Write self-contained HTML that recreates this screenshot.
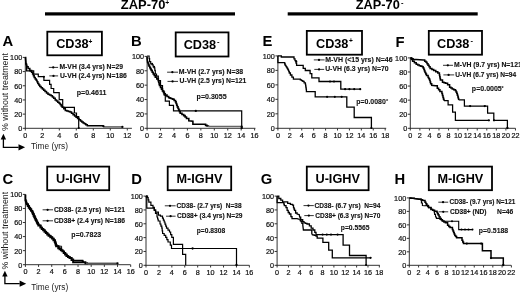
<!DOCTYPE html>
<html><head><meta charset="utf-8"><title>ZAP-70 CD38 Kaplan-Meier</title>
<style>
html,body{margin:0;padding:0;background:#fff;}
body{width:520px;height:292px;overflow:hidden;}
svg{display:block;font-family:"Liberation Sans", sans-serif;will-change:transform;}
</style></head>
<body>
<svg width="520" height="292" viewBox="0 0 520 292" font-family='"Liberation Sans", sans-serif'>
<rect width="520" height="292" fill="#fff"/>
<rect x="45" y="12.3" width="190" height="3.2" fill="#000"/>
<rect x="287.7" y="12.3" width="190" height="3.2" fill="#000"/>
<text x="120.8" y="8.8" font-size="12.8" font-weight="bold" textLength="44.6" lengthAdjust="spacingAndGlyphs">ZAP-70</text>
<text x="165.30" y="4.90" font-size="6.8" font-weight="bold" text-anchor="start" fill="#000" >+</text>
<text x="355.8" y="8.8" font-size="12.8" font-weight="bold" textLength="44.0" lengthAdjust="spacingAndGlyphs">ZAP-70</text>
<text x="401.00" y="4.70" font-size="7.5" font-weight="bold" text-anchor="start" fill="#000" >-</text>
<text x="2.40" y="45.90" font-size="14.8" font-weight="bold" text-anchor="start" fill="#000" >A</text>
<rect x="47.30" y="31.70" width="54.60" height="23.60" fill="none" stroke="#000" stroke-width="1.8"/>
<text x="72.40" y="48.20" font-size="12.7" font-weight="bold" text-anchor="middle">CD38</text>
<line x1="25.30" y1="57.40" x2="25.30" y2="128.80" stroke="#333" stroke-width="1" />
<line x1="24.80" y1="128.30" x2="131.90" y2="128.30" stroke="#333" stroke-width="1" />
<line x1="22.80" y1="128.30" x2="25.30" y2="128.30" stroke="#333" stroke-width="1" />
<text transform="translate(22.20,131.20) scale(1,1.12)" font-size="7.25" text-anchor="end" fill="#111" stroke="#111" stroke-width="0.2">0</text>
<line x1="22.80" y1="114.12" x2="25.30" y2="114.12" stroke="#333" stroke-width="1" />
<text transform="translate(22.20,117.02) scale(1,1.12)" font-size="7.25" text-anchor="end" fill="#111" stroke="#111" stroke-width="0.2">20</text>
<line x1="22.80" y1="99.94" x2="25.30" y2="99.94" stroke="#333" stroke-width="1" />
<text transform="translate(22.20,102.84) scale(1,1.12)" font-size="7.25" text-anchor="end" fill="#111" stroke="#111" stroke-width="0.2">40</text>
<line x1="22.80" y1="85.76" x2="25.30" y2="85.76" stroke="#333" stroke-width="1" />
<text transform="translate(22.20,88.66) scale(1,1.12)" font-size="7.25" text-anchor="end" fill="#111" stroke="#111" stroke-width="0.2">60</text>
<line x1="22.80" y1="71.58" x2="25.30" y2="71.58" stroke="#333" stroke-width="1" />
<text transform="translate(22.20,74.48) scale(1,1.12)" font-size="7.25" text-anchor="end" fill="#111" stroke="#111" stroke-width="0.2">80</text>
<line x1="22.80" y1="57.40" x2="25.30" y2="57.40" stroke="#333" stroke-width="1" />
<text transform="translate(22.20,60.30) scale(1,1.12)" font-size="7.25" text-anchor="end" fill="#111" stroke="#111" stroke-width="0.2">100</text>
<line x1="25.30" y1="128.30" x2="25.30" y2="130.50" stroke="#333" stroke-width="1" />
<text transform="translate(25.30,137.50) scale(1,1.12)" font-size="7.25" text-anchor="middle" fill="#111" stroke="#111" stroke-width="0.2">0</text>
<line x1="42.30" y1="128.30" x2="42.30" y2="130.50" stroke="#333" stroke-width="1" />
<text transform="translate(42.30,137.50) scale(1,1.12)" font-size="7.25" text-anchor="middle" fill="#111" stroke="#111" stroke-width="0.2">2</text>
<line x1="59.30" y1="128.30" x2="59.30" y2="130.50" stroke="#333" stroke-width="1" />
<text transform="translate(59.30,137.50) scale(1,1.12)" font-size="7.25" text-anchor="middle" fill="#111" stroke="#111" stroke-width="0.2">4</text>
<line x1="76.30" y1="128.30" x2="76.30" y2="130.50" stroke="#333" stroke-width="1" />
<text transform="translate(76.30,137.50) scale(1,1.12)" font-size="7.25" text-anchor="middle" fill="#111" stroke="#111" stroke-width="0.2">6</text>
<line x1="93.30" y1="128.30" x2="93.30" y2="130.50" stroke="#333" stroke-width="1" />
<text transform="translate(93.30,137.50) scale(1,1.12)" font-size="7.25" text-anchor="middle" fill="#111" stroke="#111" stroke-width="0.2">8</text>
<line x1="110.30" y1="128.30" x2="110.30" y2="130.50" stroke="#333" stroke-width="1" />
<text transform="translate(110.30,137.50) scale(1,1.12)" font-size="7.25" text-anchor="middle" fill="#111" stroke="#111" stroke-width="0.2">10</text>
<line x1="127.30" y1="128.30" x2="127.30" y2="130.50" stroke="#333" stroke-width="1" />
<text transform="translate(127.30,137.50) scale(1,1.12)" font-size="7.25" text-anchor="middle" fill="#111" stroke="#111" stroke-width="0.2">12</text>
<text x="131.00" y="45.80" font-size="14.8" font-weight="bold" text-anchor="start" fill="#000" >B</text>
<rect x="175.70" y="32.40" width="52.80" height="24.10" fill="none" stroke="#000" stroke-width="1.8"/>
<text x="199.90" y="49.15" font-size="12.7" font-weight="bold" text-anchor="middle">CD38</text>
<line x1="147.10" y1="56.40" x2="147.10" y2="128.80" stroke="#333" stroke-width="1" />
<line x1="146.60" y1="128.30" x2="255.40" y2="128.30" stroke="#333" stroke-width="1" />
<line x1="144.60" y1="128.30" x2="147.10" y2="128.30" stroke="#333" stroke-width="1" />
<text transform="translate(144.00,131.20) scale(1,1.12)" font-size="7.25" text-anchor="end" fill="#111" stroke="#111" stroke-width="0.2">0</text>
<line x1="144.60" y1="113.92" x2="147.10" y2="113.92" stroke="#333" stroke-width="1" />
<text transform="translate(144.00,116.82) scale(1,1.12)" font-size="7.25" text-anchor="end" fill="#111" stroke="#111" stroke-width="0.2">20</text>
<line x1="144.60" y1="99.54" x2="147.10" y2="99.54" stroke="#333" stroke-width="1" />
<text transform="translate(144.00,102.44) scale(1,1.12)" font-size="7.25" text-anchor="end" fill="#111" stroke="#111" stroke-width="0.2">40</text>
<line x1="144.60" y1="85.16" x2="147.10" y2="85.16" stroke="#333" stroke-width="1" />
<text transform="translate(144.00,88.06) scale(1,1.12)" font-size="7.25" text-anchor="end" fill="#111" stroke="#111" stroke-width="0.2">60</text>
<line x1="144.60" y1="70.78" x2="147.10" y2="70.78" stroke="#333" stroke-width="1" />
<text transform="translate(144.00,73.68) scale(1,1.12)" font-size="7.25" text-anchor="end" fill="#111" stroke="#111" stroke-width="0.2">80</text>
<line x1="144.60" y1="56.40" x2="147.10" y2="56.40" stroke="#333" stroke-width="1" />
<text transform="translate(144.00,59.30) scale(1,1.12)" font-size="7.25" text-anchor="end" fill="#111" stroke="#111" stroke-width="0.2">100</text>
<line x1="147.10" y1="128.30" x2="147.10" y2="130.50" stroke="#333" stroke-width="1" />
<text transform="translate(147.10,137.50) scale(1,1.12)" font-size="7.25" text-anchor="middle" fill="#111" stroke="#111" stroke-width="0.2">0</text>
<line x1="160.54" y1="128.30" x2="160.54" y2="130.50" stroke="#333" stroke-width="1" />
<text transform="translate(160.54,137.50) scale(1,1.12)" font-size="7.25" text-anchor="middle" fill="#111" stroke="#111" stroke-width="0.2">2</text>
<line x1="173.98" y1="128.30" x2="173.98" y2="130.50" stroke="#333" stroke-width="1" />
<text transform="translate(173.98,137.50) scale(1,1.12)" font-size="7.25" text-anchor="middle" fill="#111" stroke="#111" stroke-width="0.2">4</text>
<line x1="187.42" y1="128.30" x2="187.42" y2="130.50" stroke="#333" stroke-width="1" />
<text transform="translate(187.42,137.50) scale(1,1.12)" font-size="7.25" text-anchor="middle" fill="#111" stroke="#111" stroke-width="0.2">6</text>
<line x1="200.86" y1="128.30" x2="200.86" y2="130.50" stroke="#333" stroke-width="1" />
<text transform="translate(200.86,137.50) scale(1,1.12)" font-size="7.25" text-anchor="middle" fill="#111" stroke="#111" stroke-width="0.2">8</text>
<line x1="214.30" y1="128.30" x2="214.30" y2="130.50" stroke="#333" stroke-width="1" />
<text transform="translate(214.30,137.50) scale(1,1.12)" font-size="7.25" text-anchor="middle" fill="#111" stroke="#111" stroke-width="0.2">10</text>
<line x1="227.74" y1="128.30" x2="227.74" y2="130.50" stroke="#333" stroke-width="1" />
<text transform="translate(227.74,137.50) scale(1,1.12)" font-size="7.25" text-anchor="middle" fill="#111" stroke="#111" stroke-width="0.2">12</text>
<line x1="241.18" y1="128.30" x2="241.18" y2="130.50" stroke="#333" stroke-width="1" />
<text transform="translate(241.18,137.50) scale(1,1.12)" font-size="7.25" text-anchor="middle" fill="#111" stroke="#111" stroke-width="0.2">14</text>
<line x1="254.62" y1="128.30" x2="254.62" y2="130.50" stroke="#333" stroke-width="1" />
<text transform="translate(254.62,137.50) scale(1,1.12)" font-size="7.25" text-anchor="middle" fill="#111" stroke="#111" stroke-width="0.2">16</text>
<text x="262.60" y="45.60" font-size="14.8" font-weight="bold" text-anchor="start" fill="#000" >E</text>
<rect x="306.80" y="30.90" width="55.20" height="23.80" fill="none" stroke="#000" stroke-width="1.8"/>
<text x="332.20" y="47.50" font-size="12.7" font-weight="bold" text-anchor="middle">CD38</text>
<line x1="277.90" y1="55.90" x2="277.90" y2="128.80" stroke="#333" stroke-width="1" />
<line x1="277.40" y1="128.30" x2="386.20" y2="128.30" stroke="#333" stroke-width="1" />
<line x1="275.40" y1="128.30" x2="277.90" y2="128.30" stroke="#333" stroke-width="1" />
<text transform="translate(274.80,131.20) scale(1,1.12)" font-size="7.25" text-anchor="end" fill="#111" stroke="#111" stroke-width="0.2">0</text>
<line x1="275.40" y1="113.82" x2="277.90" y2="113.82" stroke="#333" stroke-width="1" />
<text transform="translate(274.80,116.72) scale(1,1.12)" font-size="7.25" text-anchor="end" fill="#111" stroke="#111" stroke-width="0.2">20</text>
<line x1="275.40" y1="99.34" x2="277.90" y2="99.34" stroke="#333" stroke-width="1" />
<text transform="translate(274.80,102.24) scale(1,1.12)" font-size="7.25" text-anchor="end" fill="#111" stroke="#111" stroke-width="0.2">40</text>
<line x1="275.40" y1="84.86" x2="277.90" y2="84.86" stroke="#333" stroke-width="1" />
<text transform="translate(274.80,87.76) scale(1,1.12)" font-size="7.25" text-anchor="end" fill="#111" stroke="#111" stroke-width="0.2">60</text>
<line x1="275.40" y1="70.38" x2="277.90" y2="70.38" stroke="#333" stroke-width="1" />
<text transform="translate(274.80,73.28) scale(1,1.12)" font-size="7.25" text-anchor="end" fill="#111" stroke="#111" stroke-width="0.2">80</text>
<line x1="275.40" y1="55.90" x2="277.90" y2="55.90" stroke="#333" stroke-width="1" />
<text transform="translate(274.80,58.80) scale(1,1.12)" font-size="7.25" text-anchor="end" fill="#111" stroke="#111" stroke-width="0.2">100</text>
<line x1="277.90" y1="128.30" x2="277.90" y2="130.50" stroke="#333" stroke-width="1" />
<text transform="translate(277.90,137.50) scale(1,1.12)" font-size="7.25" text-anchor="middle" fill="#111" stroke="#111" stroke-width="0.2">0</text>
<line x1="289.82" y1="128.30" x2="289.82" y2="130.50" stroke="#333" stroke-width="1" />
<text transform="translate(289.82,137.50) scale(1,1.12)" font-size="7.25" text-anchor="middle" fill="#111" stroke="#111" stroke-width="0.2">2</text>
<line x1="301.74" y1="128.30" x2="301.74" y2="130.50" stroke="#333" stroke-width="1" />
<text transform="translate(301.74,137.50) scale(1,1.12)" font-size="7.25" text-anchor="middle" fill="#111" stroke="#111" stroke-width="0.2">4</text>
<line x1="313.66" y1="128.30" x2="313.66" y2="130.50" stroke="#333" stroke-width="1" />
<text transform="translate(313.66,137.50) scale(1,1.12)" font-size="7.25" text-anchor="middle" fill="#111" stroke="#111" stroke-width="0.2">6</text>
<line x1="325.58" y1="128.30" x2="325.58" y2="130.50" stroke="#333" stroke-width="1" />
<text transform="translate(325.58,137.50) scale(1,1.12)" font-size="7.25" text-anchor="middle" fill="#111" stroke="#111" stroke-width="0.2">8</text>
<line x1="337.50" y1="128.30" x2="337.50" y2="130.50" stroke="#333" stroke-width="1" />
<text transform="translate(337.50,137.50) scale(1,1.12)" font-size="7.25" text-anchor="middle" fill="#111" stroke="#111" stroke-width="0.2">10</text>
<line x1="349.42" y1="128.30" x2="349.42" y2="130.50" stroke="#333" stroke-width="1" />
<text transform="translate(349.42,137.50) scale(1,1.12)" font-size="7.25" text-anchor="middle" fill="#111" stroke="#111" stroke-width="0.2">12</text>
<line x1="361.34" y1="128.30" x2="361.34" y2="130.50" stroke="#333" stroke-width="1" />
<text transform="translate(361.34,137.50) scale(1,1.12)" font-size="7.25" text-anchor="middle" fill="#111" stroke="#111" stroke-width="0.2">14</text>
<line x1="373.26" y1="128.30" x2="373.26" y2="130.50" stroke="#333" stroke-width="1" />
<text transform="translate(373.26,137.50) scale(1,1.12)" font-size="7.25" text-anchor="middle" fill="#111" stroke="#111" stroke-width="0.2">16</text>
<line x1="385.18" y1="128.30" x2="385.18" y2="130.50" stroke="#333" stroke-width="1" />
<text transform="translate(385.18,137.50) scale(1,1.12)" font-size="7.25" text-anchor="middle" fill="#111" stroke="#111" stroke-width="0.2">18</text>
<text x="395.60" y="47.40" font-size="14.8" font-weight="bold" text-anchor="start" fill="#000" >F</text>
<rect x="428.80" y="30.90" width="53.20" height="23.80" fill="none" stroke="#000" stroke-width="1.8"/>
<text x="453.20" y="47.50" font-size="12.7" font-weight="bold" text-anchor="middle">CD38</text>
<line x1="410.30" y1="57.90" x2="410.30" y2="128.80" stroke="#333" stroke-width="1" />
<line x1="409.80" y1="128.30" x2="515.50" y2="128.30" stroke="#333" stroke-width="1" />
<line x1="407.80" y1="128.30" x2="410.30" y2="128.30" stroke="#333" stroke-width="1" />
<text transform="translate(407.20,131.20) scale(1,1.12)" font-size="7.25" text-anchor="end" fill="#111" stroke="#111" stroke-width="0.2">0</text>
<line x1="407.80" y1="114.22" x2="410.30" y2="114.22" stroke="#333" stroke-width="1" />
<text transform="translate(407.20,117.12) scale(1,1.12)" font-size="7.25" text-anchor="end" fill="#111" stroke="#111" stroke-width="0.2">20</text>
<line x1="407.80" y1="100.14" x2="410.30" y2="100.14" stroke="#333" stroke-width="1" />
<text transform="translate(407.20,103.04) scale(1,1.12)" font-size="7.25" text-anchor="end" fill="#111" stroke="#111" stroke-width="0.2">40</text>
<line x1="407.80" y1="86.06" x2="410.30" y2="86.06" stroke="#333" stroke-width="1" />
<text transform="translate(407.20,88.96) scale(1,1.12)" font-size="7.25" text-anchor="end" fill="#111" stroke="#111" stroke-width="0.2">60</text>
<line x1="407.80" y1="71.98" x2="410.30" y2="71.98" stroke="#333" stroke-width="1" />
<text transform="translate(407.20,74.88) scale(1,1.12)" font-size="7.25" text-anchor="end" fill="#111" stroke="#111" stroke-width="0.2">80</text>
<line x1="407.80" y1="57.90" x2="410.30" y2="57.90" stroke="#333" stroke-width="1" />
<text transform="translate(407.20,60.80) scale(1,1.12)" font-size="7.25" text-anchor="end" fill="#111" stroke="#111" stroke-width="0.2">100</text>
<line x1="410.30" y1="128.30" x2="410.30" y2="130.50" stroke="#333" stroke-width="1" />
<text transform="translate(410.30,137.50) scale(1,1.12)" font-size="7.25" text-anchor="middle" fill="#111" stroke="#111" stroke-width="0.2">0</text>
<line x1="419.86" y1="128.30" x2="419.86" y2="130.50" stroke="#333" stroke-width="1" />
<text transform="translate(419.86,137.50) scale(1,1.12)" font-size="7.25" text-anchor="middle" fill="#111" stroke="#111" stroke-width="0.2">2</text>
<line x1="429.42" y1="128.30" x2="429.42" y2="130.50" stroke="#333" stroke-width="1" />
<text transform="translate(429.42,137.50) scale(1,1.12)" font-size="7.25" text-anchor="middle" fill="#111" stroke="#111" stroke-width="0.2">4</text>
<line x1="438.98" y1="128.30" x2="438.98" y2="130.50" stroke="#333" stroke-width="1" />
<text transform="translate(438.98,137.50) scale(1,1.12)" font-size="7.25" text-anchor="middle" fill="#111" stroke="#111" stroke-width="0.2">6</text>
<line x1="448.54" y1="128.30" x2="448.54" y2="130.50" stroke="#333" stroke-width="1" />
<text transform="translate(448.54,137.50) scale(1,1.12)" font-size="7.25" text-anchor="middle" fill="#111" stroke="#111" stroke-width="0.2">8</text>
<line x1="458.10" y1="128.30" x2="458.10" y2="130.50" stroke="#333" stroke-width="1" />
<text transform="translate(458.10,137.50) scale(1,1.12)" font-size="7.25" text-anchor="middle" fill="#111" stroke="#111" stroke-width="0.2">10</text>
<line x1="467.66" y1="128.30" x2="467.66" y2="130.50" stroke="#333" stroke-width="1" />
<text transform="translate(467.66,137.50) scale(1,1.12)" font-size="7.25" text-anchor="middle" fill="#111" stroke="#111" stroke-width="0.2">12</text>
<line x1="477.22" y1="128.30" x2="477.22" y2="130.50" stroke="#333" stroke-width="1" />
<text transform="translate(477.22,137.50) scale(1,1.12)" font-size="7.25" text-anchor="middle" fill="#111" stroke="#111" stroke-width="0.2">14</text>
<line x1="486.78" y1="128.30" x2="486.78" y2="130.50" stroke="#333" stroke-width="1" />
<text transform="translate(486.78,137.50) scale(1,1.12)" font-size="7.25" text-anchor="middle" fill="#111" stroke="#111" stroke-width="0.2">16</text>
<line x1="496.34" y1="128.30" x2="496.34" y2="130.50" stroke="#333" stroke-width="1" />
<text transform="translate(496.34,137.50) scale(1,1.12)" font-size="7.25" text-anchor="middle" fill="#111" stroke="#111" stroke-width="0.2">18</text>
<line x1="505.90" y1="128.30" x2="505.90" y2="130.50" stroke="#333" stroke-width="1" />
<text transform="translate(505.90,137.50) scale(1,1.12)" font-size="7.25" text-anchor="middle" fill="#111" stroke="#111" stroke-width="0.2">20</text>
<line x1="515.46" y1="128.30" x2="515.46" y2="130.50" stroke="#333" stroke-width="1" />
<text transform="translate(515.46,137.50) scale(1,1.12)" font-size="7.25" text-anchor="middle" fill="#111" stroke="#111" stroke-width="0.2">22</text>
<text x="2.40" y="184.00" font-size="14.8" font-weight="bold" text-anchor="start" fill="#000" >C</text>
<rect x="47.20" y="166.60" width="62.00" height="23.60" fill="none" stroke="#000" stroke-width="1.8"/>
<text x="78.20" y="183.10" font-size="12.7" font-weight="bold" text-anchor="middle">U-IGHV</text>
<line x1="25.40" y1="194.40" x2="25.40" y2="265.20" stroke="#333" stroke-width="1" />
<line x1="24.90" y1="264.70" x2="130.60" y2="264.70" stroke="#333" stroke-width="1" />
<line x1="22.90" y1="264.70" x2="25.40" y2="264.70" stroke="#333" stroke-width="1" />
<text transform="translate(22.30,267.60) scale(1,1.12)" font-size="7.25" text-anchor="end" fill="#111" stroke="#111" stroke-width="0.2">0</text>
<line x1="22.90" y1="250.64" x2="25.40" y2="250.64" stroke="#333" stroke-width="1" />
<text transform="translate(22.30,253.54) scale(1,1.12)" font-size="7.25" text-anchor="end" fill="#111" stroke="#111" stroke-width="0.2">20</text>
<line x1="22.90" y1="236.58" x2="25.40" y2="236.58" stroke="#333" stroke-width="1" />
<text transform="translate(22.30,239.48) scale(1,1.12)" font-size="7.25" text-anchor="end" fill="#111" stroke="#111" stroke-width="0.2">40</text>
<line x1="22.90" y1="222.52" x2="25.40" y2="222.52" stroke="#333" stroke-width="1" />
<text transform="translate(22.30,225.42) scale(1,1.12)" font-size="7.25" text-anchor="end" fill="#111" stroke="#111" stroke-width="0.2">60</text>
<line x1="22.90" y1="208.46" x2="25.40" y2="208.46" stroke="#333" stroke-width="1" />
<text transform="translate(22.30,211.36) scale(1,1.12)" font-size="7.25" text-anchor="end" fill="#111" stroke="#111" stroke-width="0.2">80</text>
<line x1="22.90" y1="194.40" x2="25.40" y2="194.40" stroke="#333" stroke-width="1" />
<text transform="translate(22.30,197.30) scale(1,1.12)" font-size="7.25" text-anchor="end" fill="#111" stroke="#111" stroke-width="0.2">100</text>
<line x1="25.40" y1="264.70" x2="25.40" y2="266.90" stroke="#333" stroke-width="1" />
<text transform="translate(25.40,273.90) scale(1,1.12)" font-size="7.25" text-anchor="middle" fill="#111" stroke="#111" stroke-width="0.2">0</text>
<line x1="38.56" y1="264.70" x2="38.56" y2="266.90" stroke="#333" stroke-width="1" />
<text transform="translate(38.56,273.90) scale(1,1.12)" font-size="7.25" text-anchor="middle" fill="#111" stroke="#111" stroke-width="0.2">2</text>
<line x1="51.72" y1="264.70" x2="51.72" y2="266.90" stroke="#333" stroke-width="1" />
<text transform="translate(51.72,273.90) scale(1,1.12)" font-size="7.25" text-anchor="middle" fill="#111" stroke="#111" stroke-width="0.2">4</text>
<line x1="64.88" y1="264.70" x2="64.88" y2="266.90" stroke="#333" stroke-width="1" />
<text transform="translate(64.88,273.90) scale(1,1.12)" font-size="7.25" text-anchor="middle" fill="#111" stroke="#111" stroke-width="0.2">6</text>
<line x1="78.04" y1="264.70" x2="78.04" y2="266.90" stroke="#333" stroke-width="1" />
<text transform="translate(78.04,273.90) scale(1,1.12)" font-size="7.25" text-anchor="middle" fill="#111" stroke="#111" stroke-width="0.2">8</text>
<line x1="91.20" y1="264.70" x2="91.20" y2="266.90" stroke="#333" stroke-width="1" />
<text transform="translate(91.20,273.90) scale(1,1.12)" font-size="7.25" text-anchor="middle" fill="#111" stroke="#111" stroke-width="0.2">10</text>
<line x1="104.36" y1="264.70" x2="104.36" y2="266.90" stroke="#333" stroke-width="1" />
<text transform="translate(104.36,273.90) scale(1,1.12)" font-size="7.25" text-anchor="middle" fill="#111" stroke="#111" stroke-width="0.2">12</text>
<line x1="117.52" y1="264.70" x2="117.52" y2="266.90" stroke="#333" stroke-width="1" />
<text transform="translate(117.52,273.90) scale(1,1.12)" font-size="7.25" text-anchor="middle" fill="#111" stroke="#111" stroke-width="0.2">14</text>
<line x1="130.68" y1="264.70" x2="130.68" y2="266.90" stroke="#333" stroke-width="1" />
<text transform="translate(130.68,273.90) scale(1,1.12)" font-size="7.25" text-anchor="middle" fill="#111" stroke="#111" stroke-width="0.2">16</text>
<text x="131.30" y="184.00" font-size="14.8" font-weight="bold" text-anchor="start" fill="#000" >D</text>
<rect x="167.70" y="166.60" width="63.50" height="23.60" fill="none" stroke="#000" stroke-width="1.8"/>
<text x="199.45" y="183.10" font-size="12.7" font-weight="bold" text-anchor="middle">M-IGHV</text>
<line x1="146.00" y1="196.10" x2="146.00" y2="265.80" stroke="#333" stroke-width="1" />
<line x1="145.50" y1="265.30" x2="249.40" y2="265.30" stroke="#333" stroke-width="1" />
<line x1="143.50" y1="265.30" x2="146.00" y2="265.30" stroke="#333" stroke-width="1" />
<text transform="translate(142.90,268.20) scale(1,1.12)" font-size="7.25" text-anchor="end" fill="#111" stroke="#111" stroke-width="0.2">0</text>
<line x1="143.50" y1="251.46" x2="146.00" y2="251.46" stroke="#333" stroke-width="1" />
<text transform="translate(142.90,254.36) scale(1,1.12)" font-size="7.25" text-anchor="end" fill="#111" stroke="#111" stroke-width="0.2">20</text>
<line x1="143.50" y1="237.62" x2="146.00" y2="237.62" stroke="#333" stroke-width="1" />
<text transform="translate(142.90,240.52) scale(1,1.12)" font-size="7.25" text-anchor="end" fill="#111" stroke="#111" stroke-width="0.2">40</text>
<line x1="143.50" y1="223.78" x2="146.00" y2="223.78" stroke="#333" stroke-width="1" />
<text transform="translate(142.90,226.68) scale(1,1.12)" font-size="7.25" text-anchor="end" fill="#111" stroke="#111" stroke-width="0.2">60</text>
<line x1="143.50" y1="209.94" x2="146.00" y2="209.94" stroke="#333" stroke-width="1" />
<text transform="translate(142.90,212.84) scale(1,1.12)" font-size="7.25" text-anchor="end" fill="#111" stroke="#111" stroke-width="0.2">80</text>
<line x1="143.50" y1="196.10" x2="146.00" y2="196.10" stroke="#333" stroke-width="1" />
<text transform="translate(142.90,199.00) scale(1,1.12)" font-size="7.25" text-anchor="end" fill="#111" stroke="#111" stroke-width="0.2">100</text>
<line x1="146.00" y1="265.30" x2="146.00" y2="267.50" stroke="#333" stroke-width="1" />
<text transform="translate(146.00,274.50) scale(1,1.12)" font-size="7.25" text-anchor="middle" fill="#111" stroke="#111" stroke-width="0.2">0</text>
<line x1="158.92" y1="265.30" x2="158.92" y2="267.50" stroke="#333" stroke-width="1" />
<text transform="translate(158.92,274.50) scale(1,1.12)" font-size="7.25" text-anchor="middle" fill="#111" stroke="#111" stroke-width="0.2">2</text>
<line x1="171.84" y1="265.30" x2="171.84" y2="267.50" stroke="#333" stroke-width="1" />
<text transform="translate(171.84,274.50) scale(1,1.12)" font-size="7.25" text-anchor="middle" fill="#111" stroke="#111" stroke-width="0.2">4</text>
<line x1="184.76" y1="265.30" x2="184.76" y2="267.50" stroke="#333" stroke-width="1" />
<text transform="translate(184.76,274.50) scale(1,1.12)" font-size="7.25" text-anchor="middle" fill="#111" stroke="#111" stroke-width="0.2">6</text>
<line x1="197.68" y1="265.30" x2="197.68" y2="267.50" stroke="#333" stroke-width="1" />
<text transform="translate(197.68,274.50) scale(1,1.12)" font-size="7.25" text-anchor="middle" fill="#111" stroke="#111" stroke-width="0.2">8</text>
<line x1="210.60" y1="265.30" x2="210.60" y2="267.50" stroke="#333" stroke-width="1" />
<text transform="translate(210.60,274.50) scale(1,1.12)" font-size="7.25" text-anchor="middle" fill="#111" stroke="#111" stroke-width="0.2">10</text>
<line x1="223.52" y1="265.30" x2="223.52" y2="267.50" stroke="#333" stroke-width="1" />
<text transform="translate(223.52,274.50) scale(1,1.12)" font-size="7.25" text-anchor="middle" fill="#111" stroke="#111" stroke-width="0.2">12</text>
<line x1="236.44" y1="265.30" x2="236.44" y2="267.50" stroke="#333" stroke-width="1" />
<text transform="translate(236.44,274.50) scale(1,1.12)" font-size="7.25" text-anchor="middle" fill="#111" stroke="#111" stroke-width="0.2">14</text>
<line x1="249.36" y1="265.30" x2="249.36" y2="267.50" stroke="#333" stroke-width="1" />
<text transform="translate(249.36,274.50) scale(1,1.12)" font-size="7.25" text-anchor="middle" fill="#111" stroke="#111" stroke-width="0.2">16</text>
<text x="260.80" y="184.00" font-size="14.8" font-weight="bold" text-anchor="start" fill="#000" >G</text>
<rect x="306.80" y="166.60" width="61.80" height="23.60" fill="none" stroke="#000" stroke-width="1.8"/>
<text x="337.70" y="183.10" font-size="12.7" font-weight="bold" text-anchor="middle">U-IGHV</text>
<line x1="277.10" y1="196.10" x2="277.10" y2="265.80" stroke="#333" stroke-width="1" />
<line x1="276.60" y1="265.30" x2="379.80" y2="265.30" stroke="#333" stroke-width="1" />
<line x1="274.60" y1="265.30" x2="277.10" y2="265.30" stroke="#333" stroke-width="1" />
<text transform="translate(274.00,268.20) scale(1,1.12)" font-size="7.25" text-anchor="end" fill="#111" stroke="#111" stroke-width="0.2">0</text>
<line x1="274.60" y1="251.46" x2="277.10" y2="251.46" stroke="#333" stroke-width="1" />
<text transform="translate(274.00,254.36) scale(1,1.12)" font-size="7.25" text-anchor="end" fill="#111" stroke="#111" stroke-width="0.2">20</text>
<line x1="274.60" y1="237.62" x2="277.10" y2="237.62" stroke="#333" stroke-width="1" />
<text transform="translate(274.00,240.52) scale(1,1.12)" font-size="7.25" text-anchor="end" fill="#111" stroke="#111" stroke-width="0.2">40</text>
<line x1="274.60" y1="223.78" x2="277.10" y2="223.78" stroke="#333" stroke-width="1" />
<text transform="translate(274.00,226.68) scale(1,1.12)" font-size="7.25" text-anchor="end" fill="#111" stroke="#111" stroke-width="0.2">60</text>
<line x1="274.60" y1="209.94" x2="277.10" y2="209.94" stroke="#333" stroke-width="1" />
<text transform="translate(274.00,212.84) scale(1,1.12)" font-size="7.25" text-anchor="end" fill="#111" stroke="#111" stroke-width="0.2">80</text>
<line x1="274.60" y1="196.10" x2="277.10" y2="196.10" stroke="#333" stroke-width="1" />
<text transform="translate(274.00,199.00) scale(1,1.12)" font-size="7.25" text-anchor="end" fill="#111" stroke="#111" stroke-width="0.2">100</text>
<line x1="277.10" y1="265.30" x2="277.10" y2="267.50" stroke="#333" stroke-width="1" />
<text transform="translate(277.10,274.50) scale(1,1.12)" font-size="7.25" text-anchor="middle" fill="#111" stroke="#111" stroke-width="0.2">0</text>
<line x1="288.46" y1="265.30" x2="288.46" y2="267.50" stroke="#333" stroke-width="1" />
<text transform="translate(288.46,274.50) scale(1,1.12)" font-size="7.25" text-anchor="middle" fill="#111" stroke="#111" stroke-width="0.2">2</text>
<line x1="299.82" y1="265.30" x2="299.82" y2="267.50" stroke="#333" stroke-width="1" />
<text transform="translate(299.82,274.50) scale(1,1.12)" font-size="7.25" text-anchor="middle" fill="#111" stroke="#111" stroke-width="0.2">4</text>
<line x1="311.18" y1="265.30" x2="311.18" y2="267.50" stroke="#333" stroke-width="1" />
<text transform="translate(311.18,274.50) scale(1,1.12)" font-size="7.25" text-anchor="middle" fill="#111" stroke="#111" stroke-width="0.2">6</text>
<line x1="322.54" y1="265.30" x2="322.54" y2="267.50" stroke="#333" stroke-width="1" />
<text transform="translate(322.54,274.50) scale(1,1.12)" font-size="7.25" text-anchor="middle" fill="#111" stroke="#111" stroke-width="0.2">8</text>
<line x1="333.90" y1="265.30" x2="333.90" y2="267.50" stroke="#333" stroke-width="1" />
<text transform="translate(333.90,274.50) scale(1,1.12)" font-size="7.25" text-anchor="middle" fill="#111" stroke="#111" stroke-width="0.2">10</text>
<line x1="345.26" y1="265.30" x2="345.26" y2="267.50" stroke="#333" stroke-width="1" />
<text transform="translate(345.26,274.50) scale(1,1.12)" font-size="7.25" text-anchor="middle" fill="#111" stroke="#111" stroke-width="0.2">12</text>
<line x1="356.62" y1="265.30" x2="356.62" y2="267.50" stroke="#333" stroke-width="1" />
<text transform="translate(356.62,274.50) scale(1,1.12)" font-size="7.25" text-anchor="middle" fill="#111" stroke="#111" stroke-width="0.2">14</text>
<line x1="367.98" y1="265.30" x2="367.98" y2="267.50" stroke="#333" stroke-width="1" />
<text transform="translate(367.98,274.50) scale(1,1.12)" font-size="7.25" text-anchor="middle" fill="#111" stroke="#111" stroke-width="0.2">16</text>
<line x1="379.34" y1="265.30" x2="379.34" y2="267.50" stroke="#333" stroke-width="1" />
<text transform="translate(379.34,274.50) scale(1,1.12)" font-size="7.25" text-anchor="middle" fill="#111" stroke="#111" stroke-width="0.2">18</text>
<text x="394.60" y="184.00" font-size="14.8" font-weight="bold" text-anchor="start" fill="#000" >H</text>
<rect x="428.80" y="166.60" width="63.20" height="23.60" fill="none" stroke="#000" stroke-width="1.8"/>
<text x="460.40" y="183.10" font-size="12.7" font-weight="bold" text-anchor="middle">M-IGHV</text>
<line x1="409.30" y1="197.90" x2="409.30" y2="265.80" stroke="#333" stroke-width="1" />
<line x1="408.80" y1="265.30" x2="511.20" y2="265.30" stroke="#333" stroke-width="1" />
<line x1="406.80" y1="265.30" x2="409.30" y2="265.30" stroke="#333" stroke-width="1" />
<text transform="translate(406.20,268.20) scale(1,1.12)" font-size="7.25" text-anchor="end" fill="#111" stroke="#111" stroke-width="0.2">0</text>
<line x1="406.80" y1="251.82" x2="409.30" y2="251.82" stroke="#333" stroke-width="1" />
<text transform="translate(406.20,254.72) scale(1,1.12)" font-size="7.25" text-anchor="end" fill="#111" stroke="#111" stroke-width="0.2">20</text>
<line x1="406.80" y1="238.34" x2="409.30" y2="238.34" stroke="#333" stroke-width="1" />
<text transform="translate(406.20,241.24) scale(1,1.12)" font-size="7.25" text-anchor="end" fill="#111" stroke="#111" stroke-width="0.2">40</text>
<line x1="406.80" y1="224.86" x2="409.30" y2="224.86" stroke="#333" stroke-width="1" />
<text transform="translate(406.20,227.76) scale(1,1.12)" font-size="7.25" text-anchor="end" fill="#111" stroke="#111" stroke-width="0.2">60</text>
<line x1="406.80" y1="211.38" x2="409.30" y2="211.38" stroke="#333" stroke-width="1" />
<text transform="translate(406.20,214.28) scale(1,1.12)" font-size="7.25" text-anchor="end" fill="#111" stroke="#111" stroke-width="0.2">80</text>
<line x1="406.80" y1="197.90" x2="409.30" y2="197.90" stroke="#333" stroke-width="1" />
<text transform="translate(406.20,200.80) scale(1,1.12)" font-size="7.25" text-anchor="end" fill="#111" stroke="#111" stroke-width="0.2">100</text>
<line x1="409.30" y1="265.30" x2="409.30" y2="267.50" stroke="#333" stroke-width="1" />
<text transform="translate(409.30,274.50) scale(1,1.12)" font-size="7.25" text-anchor="middle" fill="#111" stroke="#111" stroke-width="0.2">0</text>
<line x1="418.58" y1="265.30" x2="418.58" y2="267.50" stroke="#333" stroke-width="1" />
<text transform="translate(418.58,274.50) scale(1,1.12)" font-size="7.25" text-anchor="middle" fill="#111" stroke="#111" stroke-width="0.2">2</text>
<line x1="427.86" y1="265.30" x2="427.86" y2="267.50" stroke="#333" stroke-width="1" />
<text transform="translate(427.86,274.50) scale(1,1.12)" font-size="7.25" text-anchor="middle" fill="#111" stroke="#111" stroke-width="0.2">4</text>
<line x1="437.14" y1="265.30" x2="437.14" y2="267.50" stroke="#333" stroke-width="1" />
<text transform="translate(437.14,274.50) scale(1,1.12)" font-size="7.25" text-anchor="middle" fill="#111" stroke="#111" stroke-width="0.2">6</text>
<line x1="446.42" y1="265.30" x2="446.42" y2="267.50" stroke="#333" stroke-width="1" />
<text transform="translate(446.42,274.50) scale(1,1.12)" font-size="7.25" text-anchor="middle" fill="#111" stroke="#111" stroke-width="0.2">8</text>
<line x1="455.70" y1="265.30" x2="455.70" y2="267.50" stroke="#333" stroke-width="1" />
<text transform="translate(455.70,274.50) scale(1,1.12)" font-size="7.25" text-anchor="middle" fill="#111" stroke="#111" stroke-width="0.2">10</text>
<line x1="464.98" y1="265.30" x2="464.98" y2="267.50" stroke="#333" stroke-width="1" />
<text transform="translate(464.98,274.50) scale(1,1.12)" font-size="7.25" text-anchor="middle" fill="#111" stroke="#111" stroke-width="0.2">12</text>
<line x1="474.26" y1="265.30" x2="474.26" y2="267.50" stroke="#333" stroke-width="1" />
<text transform="translate(474.26,274.50) scale(1,1.12)" font-size="7.25" text-anchor="middle" fill="#111" stroke="#111" stroke-width="0.2">14</text>
<line x1="483.54" y1="265.30" x2="483.54" y2="267.50" stroke="#333" stroke-width="1" />
<text transform="translate(483.54,274.50) scale(1,1.12)" font-size="7.25" text-anchor="middle" fill="#111" stroke="#111" stroke-width="0.2">16</text>
<line x1="492.82" y1="265.30" x2="492.82" y2="267.50" stroke="#333" stroke-width="1" />
<text transform="translate(492.82,274.50) scale(1,1.12)" font-size="7.25" text-anchor="middle" fill="#111" stroke="#111" stroke-width="0.2">18</text>
<line x1="502.10" y1="265.30" x2="502.10" y2="267.50" stroke="#333" stroke-width="1" />
<text transform="translate(502.10,274.50) scale(1,1.12)" font-size="7.25" text-anchor="middle" fill="#111" stroke="#111" stroke-width="0.2">20</text>
<line x1="511.38" y1="265.30" x2="511.38" y2="267.50" stroke="#333" stroke-width="1" />
<text transform="translate(511.38,274.50) scale(1,1.12)" font-size="7.25" text-anchor="middle" fill="#111" stroke="#111" stroke-width="0.2">22</text>
<text x="88.60" y="44.10" font-size="6.6" font-weight="bold" text-anchor="start" fill="#000" >+</text>
<text x="217.00" y="43.50" font-size="7.5" font-weight="bold" text-anchor="start" fill="#000" >-</text>
<text x="349.00" y="43.40" font-size="6.6" font-weight="bold" text-anchor="start" fill="#000" >+</text>
<text x="470.50" y="42.50" font-size="7.5" font-weight="bold" text-anchor="start" fill="#000" >-</text>
<text transform="translate(7.7,130.9) rotate(-90)" font-size="8.8" fill="#1a1a1a">% without treatment</text>
<text transform="translate(7.9,269.6) rotate(-90)" font-size="8.8" fill="#1a1a1a">% without treatment</text>
<path d="M3.40,138.80 L3.40,147.30 L18.60,147.30" fill="none" stroke="#000" stroke-width="1.3"/>
<path d="M0.70,139.60 L3.40,133.80 L6.10,139.60 Z" fill="#000"/>
<path d="M18.50,144.20 L25.10,147.30 L18.50,150.40 Z" fill="#000"/>
<text x="31.00" y="149.10" font-size="8.3" font-weight="normal" text-anchor="start" fill="#1a1a1a" >Time (yrs)</text>
<path d="M4.90,275.70 L4.90,283.70 L19.70,283.70" fill="none" stroke="#000" stroke-width="1.3"/>
<path d="M2.20,276.50 L4.90,270.70 L7.60,276.50 Z" fill="#000"/>
<path d="M19.60,280.60 L26.20,283.70 L19.60,286.80 Z" fill="#000"/>
<text x="31.20" y="289.50" font-size="8.3" font-weight="normal" text-anchor="start" fill="#1a1a1a" >Time (yrs)</text>
<line x1="48.80" y1="67.40" x2="58.10" y2="67.40" stroke="#333" stroke-width="1" />
<circle cx="53.25" cy="67.40" r="1.15" fill="#000"/>
<text x="59.45" y="69.30" font-size="6.9" font-weight="bold" fill="#111" stroke="#111" stroke-width="0.12" textLength="63.55" lengthAdjust="spacingAndGlyphs" style="white-space:pre">M-VH (3.4 yrs) N=29</text>
<line x1="49.30" y1="75.90" x2="58.10" y2="75.90" stroke="#333" stroke-width="1" />
<circle cx="53.50" cy="75.90" r="1.15" fill="#000"/>
<text x="59.95" y="77.80" font-size="6.9" font-weight="bold" fill="#111" stroke="#111" stroke-width="0.12" textLength="66.85" lengthAdjust="spacingAndGlyphs" style="white-space:pre">U-VH (2.4 yrs) N=186</text>
<text x="76.65" y="95.30" font-size="6.9" font-weight="bold" fill="#111" stroke="#111" stroke-width="0.08" textLength="29.85" lengthAdjust="spacingAndGlyphs" style="white-space:pre">p=0.4611</text>
<line x1="167.10" y1="72.20" x2="178.00" y2="72.20" stroke="#333" stroke-width="1" />
<circle cx="172.35" cy="72.20" r="1.15" fill="#000"/>
<text x="178.75" y="74.10" font-size="6.9" font-weight="bold" fill="#111" stroke="#111" stroke-width="0.12" textLength="64.45" lengthAdjust="spacingAndGlyphs" style="white-space:pre">M-VH (2.7 yrs) N=38</text>
<line x1="167.50" y1="81.40" x2="178.00" y2="81.40" stroke="#333" stroke-width="1" />
<circle cx="172.55" cy="81.40" r="1.15" fill="#000"/>
<text x="179.55" y="83.30" font-size="6.9" font-weight="bold" fill="#111" stroke="#111" stroke-width="0.12" textLength="66.75" lengthAdjust="spacingAndGlyphs" style="white-space:pre">U-VH (2.5 yrs) N=121</text>
<text x="196.55" y="98.70" font-size="6.9" font-weight="bold" fill="#111" stroke="#111" stroke-width="0.08" textLength="30.15" lengthAdjust="spacingAndGlyphs" style="white-space:pre">p=0.3055</text>
<line x1="313.80" y1="59.90" x2="324.60" y2="59.90" stroke="#333" stroke-width="1" />
<circle cx="319.00" cy="59.90" r="1.15" fill="#000"/>
<text x="325.15" y="61.80" font-size="6.9" font-weight="bold" fill="#111" stroke="#111" stroke-width="0.12" textLength="67.45" lengthAdjust="spacingAndGlyphs" style="white-space:pre">M-VH (&lt;15 yrs) N=46</text>
<line x1="314.30" y1="69.40" x2="324.20" y2="69.40" stroke="#333" stroke-width="1" />
<circle cx="319.05" cy="69.40" r="1.15" fill="#000"/>
<text x="325.15" y="71.30" font-size="6.9" font-weight="bold" fill="#111" stroke="#111" stroke-width="0.12" textLength="63.45" lengthAdjust="spacingAndGlyphs" style="white-space:pre">U-VH (6.3 yrs) N=70</text>
<text x="356.25" y="103.60" font-size="6.9" font-weight="bold" fill="#111" stroke="#111" stroke-width="0.08" textLength="29.55" lengthAdjust="spacingAndGlyphs" style="white-space:pre">p=0.0080</text>
<text x="386.00" y="103.20" font-size="5.5" font-weight="bold" text-anchor="start" fill="#111" >*</text>
<line x1="443.00" y1="65.30" x2="453.00" y2="65.30" stroke="#333" stroke-width="1" />
<circle cx="447.80" cy="65.30" r="1.15" fill="#000"/>
<text x="453.95" y="67.20" font-size="6.9" font-weight="bold" fill="#111" stroke="#111" stroke-width="0.12" textLength="67.85" lengthAdjust="spacingAndGlyphs" style="white-space:pre">M-VH (9.7 yrs) N=121</text>
<line x1="443.40" y1="74.90" x2="454.20" y2="74.90" stroke="#333" stroke-width="1" />
<circle cx="448.60" cy="74.90" r="1.15" fill="#000"/>
<text x="455.15" y="76.80" font-size="6.9" font-weight="bold" fill="#111" stroke="#111" stroke-width="0.12" textLength="60.95" lengthAdjust="spacingAndGlyphs" style="white-space:pre">U-VH (6.7 yrs) N=94</text>
<text x="471.85" y="90.80" font-size="6.9" font-weight="bold" fill="#111" stroke="#111" stroke-width="0.08" textLength="29.95" lengthAdjust="spacingAndGlyphs" style="white-space:pre">p=0.0005</text>
<text x="501.60" y="90.40" font-size="5.5" font-weight="bold" text-anchor="start" fill="#111" >*</text>
<line x1="42.60" y1="209.80" x2="53.00" y2="209.80" stroke="#333" stroke-width="1" />
<circle cx="47.60" cy="209.80" r="1.15" fill="#000"/>
<text x="53.95" y="211.70" font-size="6.9" font-weight="bold" fill="#111" stroke="#111" stroke-width="0.12" textLength="71.15" lengthAdjust="spacingAndGlyphs" style="white-space:pre">CD38- (2.5 yrs)  N=121</text>
<line x1="42.60" y1="220.80" x2="53.00" y2="220.80" stroke="#333" stroke-width="1" />
<circle cx="47.60" cy="220.80" r="1.15" fill="#000"/>
<text x="53.95" y="222.70" font-size="6.9" font-weight="bold" fill="#111" stroke="#111" stroke-width="0.12" textLength="71.15" lengthAdjust="spacingAndGlyphs" style="white-space:pre">CD38+ (2.4 yrs) N=186</text>
<text x="71.35" y="236.80" font-size="6.9" font-weight="bold" fill="#111" stroke="#111" stroke-width="0.08" textLength="29.85" lengthAdjust="spacingAndGlyphs" style="white-space:pre">p=0.7823</text>
<line x1="164.80" y1="205.80" x2="175.60" y2="205.80" stroke="#333" stroke-width="1" />
<circle cx="170.00" cy="205.80" r="1.15" fill="#000"/>
<text x="176.55" y="207.70" font-size="6.9" font-weight="bold" fill="#111" stroke="#111" stroke-width="0.12" textLength="65.05" lengthAdjust="spacingAndGlyphs" style="white-space:pre">CD38- (2.7 yrs)  N=38</text>
<line x1="166.00" y1="216.20" x2="175.60" y2="216.20" stroke="#333" stroke-width="1" />
<circle cx="170.60" cy="216.20" r="1.15" fill="#000"/>
<text x="176.95" y="218.10" font-size="6.9" font-weight="bold" fill="#111" stroke="#111" stroke-width="0.12" textLength="65.55" lengthAdjust="spacingAndGlyphs" style="white-space:pre">CD38+ (3.4 yrs) N=29</text>
<text x="196.75" y="232.60" font-size="6.9" font-weight="bold" fill="#111" stroke="#111" stroke-width="0.08" textLength="28.45" lengthAdjust="spacingAndGlyphs" style="white-space:pre">p=0.8308</text>
<line x1="303.50" y1="205.60" x2="313.80" y2="205.60" stroke="#333" stroke-width="1" />
<circle cx="308.45" cy="205.60" r="1.15" fill="#000"/>
<text x="314.55" y="207.50" font-size="6.9" font-weight="bold" fill="#111" stroke="#111" stroke-width="0.12" textLength="65.75" lengthAdjust="spacingAndGlyphs" style="white-space:pre">CD38- (6.7 yrs)  N=94</text>
<line x1="304.30" y1="215.60" x2="313.80" y2="215.60" stroke="#333" stroke-width="1" />
<circle cx="308.85" cy="215.60" r="1.15" fill="#000"/>
<text x="315.35" y="217.50" font-size="6.9" font-weight="bold" fill="#111" stroke="#111" stroke-width="0.12" textLength="64.95" lengthAdjust="spacingAndGlyphs" style="white-space:pre">CD38+ (6.3 yrs) N=70</text>
<text x="340.75" y="230.00" font-size="6.9" font-weight="bold" fill="#111" stroke="#111" stroke-width="0.08" textLength="28.75" lengthAdjust="spacingAndGlyphs" style="white-space:pre">p=0.5565</text>
<line x1="438.30" y1="202.20" x2="448.20" y2="202.20" stroke="#333" stroke-width="1" />
<circle cx="443.05" cy="202.20" r="1.15" fill="#000"/>
<text x="449.55" y="204.10" font-size="6.9" font-weight="bold" fill="#111" stroke="#111" stroke-width="0.12" textLength="65.75" lengthAdjust="spacingAndGlyphs" style="white-space:pre">CD38- (9.7 yrs) N=121</text>
<line x1="438.70" y1="211.80" x2="448.20" y2="211.80" stroke="#333" stroke-width="1" />
<circle cx="443.25" cy="211.80" r="1.15" fill="#000"/>
<text x="449.95" y="213.70" font-size="6.9" font-weight="bold" fill="#111" stroke="#111" stroke-width="0.12" textLength="36.55" lengthAdjust="spacingAndGlyphs" style="white-space:pre">CD38+ (ND)</text>
<text x="497.05" y="213.70" font-size="6.9" font-weight="bold" fill="#111" stroke="#111" stroke-width="0.12" textLength="16.25" lengthAdjust="spacingAndGlyphs" style="white-space:pre">N=46</text>
<text x="478.85" y="233.40" font-size="6.9" font-weight="bold" fill="#111" stroke="#111" stroke-width="0.08" textLength="29.35" lengthAdjust="spacingAndGlyphs" style="white-space:pre">p=0.5188</text>
<path d="M25.30,57.40 L25.70,60.80 L26.10,64.30 L26.45,64.30 L26.45,65.50 L26.80,65.50 L26.80,66.70 L28.10,66.70 L28.10,68.40 L29.80,68.40 L29.80,70.40 L31.60,70.40 L31.60,72.20 L32.60,72.20 L32.60,74.00 L33.40,74.00 L33.40,75.75 L34.20,75.75 L34.20,77.50 L35.20,77.50 L35.20,78.90 L36.20,78.90 L36.20,80.30 L37.00,80.30 L37.00,81.85 L37.80,81.85 L37.80,83.40 L38.80,83.40 L38.80,84.90 L39.80,84.90 L39.80,86.40 L41.10,86.40 L41.10,87.70 L42.40,87.70 L42.40,89.00 L43.70,89.00 L43.70,90.30 L45.00,90.30 L45.00,91.60 L46.50,91.60 L46.50,92.90 L48.00,92.90 L48.00,94.20 L49.55,94.20 L49.55,94.95 L51.10,94.95 L51.10,95.70 L52.40,95.70 L52.40,97.00 L53.70,97.00 L53.70,98.30 L55.20,98.30 L55.20,100.00 L56.50,100.00 L56.50,101.07 L57.80,101.07 L57.80,102.13 L59.10,102.13 L59.10,103.20 L60.13,103.20 L60.13,104.57 L61.17,104.57 L61.17,105.93 L62.20,105.93 L62.20,107.30 L63.75,107.30 L63.75,108.85 L65.30,108.85 L65.30,110.40 L66.87,110.40 L66.87,110.93 L68.43,110.93 L68.43,111.47 L70.00,111.47 L70.00,112.00 L71.53,112.00 L71.53,113.33 L73.07,113.33 L73.07,114.67 L74.60,114.67 L74.60,116.00 L76.07,116.00 L76.07,117.25 L77.55,117.25 L77.55,118.50 L79.03,118.50 L79.03,119.75 L80.50,119.75 L80.50,121.00 L81.83,121.00 L81.83,121.95 L83.15,121.95 L83.15,122.90 L84.47,122.90 L84.47,123.85 L85.80,123.85 L85.80,124.80 L87.30,124.80 L87.30,125.80 L103.40,125.80" fill="none" stroke="#000" stroke-width="1.5" stroke-linejoin="miter"/>
<path d="M103.40,126.90 L122.40,126.90" fill="none" stroke="#555" stroke-width="1.4" stroke-linejoin="miter"/>
<path d="M25.30,57.40 L25.80,57.40 L25.80,64.00 L26.60,64.00 L26.60,70.80 L33.70,70.80 L33.70,74.10 L38.30,74.10 L38.30,76.70 L43.90,76.70 L43.90,80.30 L49.60,80.30 L49.60,84.40 L51.10,84.40 L51.10,88.50 L53.70,88.50 L53.70,92.60 L59.20,92.60 L59.20,99.60 L62.70,99.60 L62.70,107.30 L74.40,107.30 L74.40,113.00 L76.50,113.00 L76.50,116.50 L78.70,116.50 L78.70,128.30" fill="none" stroke="#000" stroke-width="1.2" stroke-linejoin="miter"/>
<path d="M147.10,56.40 L147.10,58.60 L147.60,62.20 L148.10,62.20 L148.10,63.57 L148.60,63.57 L148.60,64.93 L149.10,64.93 L149.10,66.30 L149.80,66.30 L149.80,67.67 L150.50,67.67 L150.50,69.03 L151.20,69.03 L151.20,70.40 L152.20,70.40 L152.20,72.20 L153.20,72.20 L153.20,74.00 L154.25,74.00 L154.25,75.55 L155.30,75.55 L155.30,77.10 L156.80,77.10 L156.80,78.90 L158.30,78.90 L158.30,80.70 L158.70,80.70 L158.70,82.30 L159.10,82.30 L159.10,83.90 L159.50,83.90 L159.50,85.50 L160.50,85.50 L160.50,87.33 L161.50,87.33 L161.50,89.17 L162.50,89.17 L162.50,91.00 L163.43,91.00 L163.43,92.37 L164.37,92.37 L164.37,93.73 L165.30,93.73 L165.30,95.10 L167.00,95.10 L167.00,96.45 L168.70,96.45 L168.70,97.80 L170.07,97.80 L170.07,98.27 L171.43,98.27 L171.43,98.73 L172.80,98.73 L172.80,99.20 L174.15,99.20 L174.15,100.55 L175.50,100.55 L175.50,101.90 L176.10,101.90 L176.10,103.57 L176.70,103.57 L176.70,105.23 L177.30,105.23 L177.30,106.90 L178.03,106.90 L178.03,108.50 L178.75,108.50 L178.75,110.10 L179.47,110.10 L179.47,111.70 L180.20,111.70 L180.20,113.30 L181.95,113.30 L181.95,114.45 L183.70,114.45 L183.70,115.60 L185.10,115.60 L185.10,117.05 L186.50,117.05 L186.50,118.50 L188.80,118.50 L188.80,120.80 L192.90,121.30 L192.90,124.20 L205.60,124.20 L205.60,125.40 L207.00,125.40 L207.00,126.00 L208.40,126.00 L208.40,126.60" fill="none" stroke="#000" stroke-width="1.6" stroke-linejoin="miter"/>
<path d="M208.40,126.60 L241.70,126.60" fill="none" stroke="#666" stroke-width="1.5" stroke-linejoin="miter"/>
<path d="M147.10,56.00 L149.10,56.00 L149.10,58.60 L149.60,58.60 L149.60,61.70 L150.70,61.70 L150.70,63.80 L152.20,63.80 L152.20,64.80 L153.20,64.80 L153.20,66.80 L154.20,66.80 L154.20,67.90 L154.80,67.90 L154.80,70.40 L155.30,70.40 L155.30,74.00 L156.50,74.00 L156.50,76.00 L158.30,76.00 L158.30,80.70 L160.50,80.70 L160.50,85.50 L162.50,85.50 L162.50,91.00 L164.00,91.00 L164.00,95.00 L165.30,95.00 L165.30,101.20 L169.40,101.20 L169.40,105.30 L173.50,105.30 L173.50,110.90 L241.70,110.90 L241.70,128.30" fill="none" stroke="#000" stroke-width="1.2" stroke-linejoin="miter"/>
<path d="M277.90,55.80 L281.30,55.80 L281.30,57.00 L294.00,57.00 L294.00,58.80 L295.00,58.80 L295.00,60.70 L296.00,60.70 L296.00,63.20 L296.60,63.20 L296.60,65.30 L303.20,65.30 L303.20,68.40 L305.30,68.40 L305.30,70.50 L310.10,70.50 L310.10,73.70 L311.80,73.70 L311.80,77.80 L319.00,77.80 L319.00,81.50 L340.80,81.50 L340.80,89.20 L360.50,89.20" fill="none" stroke="#000" stroke-width="1.3" stroke-linejoin="miter"/>
<path d="M277.90,55.80 L277.90,62.70 L284.20,62.70 L284.70,62.70 L284.70,64.00 L285.20,64.00 L285.20,65.30 L286.00,65.30 L286.00,66.55 L286.80,66.55 L286.80,67.80 L287.55,67.80 L287.55,69.10 L288.30,69.10 L288.30,70.40 L288.80,70.40 L288.80,71.70 L289.30,71.70 L289.30,73.00 L290.40,73.00 L290.40,75.00 L291.90,75.00 L291.90,77.10 L293.40,77.10 L293.40,79.20 L300.30,79.20 L300.30,79.90 L301.55,79.90 L301.55,80.60 L302.80,80.60 L302.80,81.30 L304.10,81.30 L304.10,82.85 L305.40,82.85 L305.40,84.40 L305.65,84.40 L305.65,85.95 L305.90,85.95 L305.90,87.50 L306.15,87.50 L306.15,89.05 L306.40,89.05 L306.40,90.60 L306.40,91.60 L315.20,91.60 L315.20,96.80 L346.80,96.80 L346.80,107.10 L354.20,107.10 L354.20,117.50 L371.40,117.50 L371.40,128.30" fill="none" stroke="#000" stroke-width="1.3" stroke-linejoin="miter"/>
<path d="M410.30,57.90 L411.70,57.90 L411.70,58.75 L413.10,58.75 L413.10,59.60 L416.20,59.60 L423.40,60.10 L424.70,60.10 L424.70,61.15 L426.00,61.15 L426.00,62.20 L427.00,62.20 L427.00,63.75 L428.00,63.75 L428.00,65.30 L429.05,65.30 L429.05,66.85 L430.10,66.85 L430.10,68.40 L431.90,68.40 L431.90,69.40 L433.70,69.40 L433.70,70.40 L435.75,70.40 L435.75,71.70 L437.80,71.70 L437.80,73.00 L439.40,73.00 L439.40,75.00 L439.73,75.00 L439.73,76.70 L440.07,76.70 L440.07,78.40 L440.40,78.40 L440.40,80.10 L442.50,80.10 L442.50,82.20 L444.00,82.20 L444.00,82.70 L445.50,82.70 L445.50,83.20 L447.60,83.20 L447.60,84.80 L449.60,84.80 L449.60,87.30 L450.90,87.30 L450.90,88.10 L452.20,88.10 L452.20,88.90 L453.75,88.90 L453.75,89.65 L455.30,89.65 L455.30,90.40 L456.05,90.40 L456.05,91.95 L456.80,91.95 L456.80,93.50 L457.35,93.50 L457.35,95.30 L457.90,95.30 L457.90,97.10 L458.30,97.10 L458.30,98.50 L458.70,98.50 L458.70,99.90" fill="none" stroke="#000" stroke-width="1.5" stroke-linejoin="miter"/>
<path d="M458.70,99.90 L464.40,99.90 L464.40,106.10 L487.60,106.10 L487.60,113.00 L493.80,113.00 L493.80,120.30 L507.40,120.30 L507.40,128.30" fill="none" stroke="#000" stroke-width="1.25" stroke-linejoin="miter"/>
<path d="M410.30,57.90 L411.45,57.90 L411.45,59.55 L412.60,59.55 L412.60,61.20 L414.40,61.20 L414.40,62.70 L416.20,62.70 L416.20,64.20 L417.75,64.20 L417.75,65.00 L419.30,65.00 L419.30,65.80 L420.85,65.80 L420.85,66.30 L422.40,66.30 L422.40,66.80 L423.15,66.80 L423.15,68.10 L423.90,68.10 L423.90,69.40 L424.45,69.40 L424.45,70.95 L425.00,70.95 L425.00,72.50 L425.75,72.50 L425.75,74.05 L426.50,74.05 L426.50,75.60 L428.10,75.60 L428.10,77.50 L428.85,77.50 L428.85,78.85 L429.60,78.85 L429.60,80.20 L430.10,80.20 L430.10,82.00 L430.60,82.00 L430.60,83.80 L431.70,83.80 L431.70,85.30 L435.30,85.80 L437.30,85.80 L437.30,88.30 L438.60,88.30 L438.60,89.85 L439.90,89.85 L439.90,91.40 L441.90,91.40 L441.90,93.50 L442.45,93.50 L442.45,95.55 L443.00,95.55 L443.00,97.60 L443.50,97.60 L443.50,99.15 L444.00,99.15 L444.00,100.70" fill="none" stroke="#000" stroke-width="1.5" stroke-linejoin="miter"/>
<path d="M444.00,100.70 L448.10,100.70 L448.10,104.80 L452.60,104.80 L452.60,112.20 L455.40,112.20 L455.40,120.30 L488.90,120.30" fill="none" stroke="#000" stroke-width="1.25" stroke-linejoin="miter"/>
<path d="M25.40,194.40 L25.40,200.20 L25.83,200.20 L25.83,201.57 L26.27,201.57 L26.27,202.93 L26.70,202.93 L26.70,204.30 L27.70,204.30 L27.70,206.00 L28.70,206.00 L28.70,207.70 L29.83,207.70 L29.83,209.30 L30.97,209.30 L30.97,210.90 L32.10,210.90 L32.10,212.50 L32.80,212.50 L32.80,214.10 L33.50,214.10 L33.50,215.70 L34.20,215.70 L34.20,217.30 L34.87,217.30 L34.87,218.67 L35.53,218.67 L35.53,220.03 L36.20,220.03 L36.20,221.40 L36.90,221.40 L36.90,222.77 L37.60,222.77 L37.60,224.13 L38.30,224.13 L38.30,225.50 L40.30,225.50 L40.30,227.60 L41.70,227.60 L41.70,228.95 L43.10,228.95 L43.10,230.30 L44.45,230.30 L44.45,231.70 L45.80,231.70 L45.80,233.10 L47.15,233.10 L47.15,234.45 L48.50,234.45 L48.50,235.80 L50.25,235.80 L50.25,237.20 L52.00,237.20 L52.00,238.60 L53.35,238.60 L53.35,240.30 L54.70,240.30 L54.70,242.00 L55.17,242.00 L55.17,243.40 L55.63,243.40 L55.63,244.80 L56.10,244.80 L56.10,246.20 L58.20,246.20 L58.20,248.30 L59.57,248.30 L59.57,249.33 L60.93,249.33 L60.93,250.37 L62.30,250.37 L62.30,251.40 L63.67,251.40 L63.67,252.93 L65.03,252.93 L65.03,254.47 L66.40,254.47 L66.40,256.00 L67.95,256.00 L67.95,257.00 L69.50,257.00 L69.50,258.00 L71.50,258.00 L71.50,260.10 L73.10,260.10 L73.10,262.20 L85.40,262.20 L85.40,263.30 L88.00,263.30" fill="none" stroke="#000" stroke-width="1.9" stroke-linejoin="miter"/>
<path d="M27.50,204.10 L28.50,204.10 L28.50,205.80 L29.50,205.80 L29.50,207.50 L30.63,207.50 L30.63,209.10 L31.77,209.10 L31.77,210.70 L32.90,210.70 L32.90,212.30 L33.60,212.30 L33.60,213.90 L34.30,213.90 L34.30,215.50 L35.00,215.50 L35.00,217.10 L35.67,217.10 L35.67,218.47 L36.33,218.47 L36.33,219.83 L37.00,219.83 L37.00,221.20 L37.70,221.20 L37.70,222.57 L38.40,222.57 L38.40,223.93 L39.10,223.93 L39.10,225.30 L41.10,225.30 L41.10,227.40 L42.50,227.40 L42.50,228.75 L43.90,228.75 L43.90,230.10 L45.25,230.10 L45.25,231.50 L46.60,231.50 L46.60,232.90 L47.95,232.90 L47.95,234.25 L49.30,234.25 L49.30,235.60 L51.05,235.60 L51.05,237.00 L52.80,237.00 L52.80,238.40 L54.15,238.40 L54.15,240.10 L55.50,240.10 L55.50,241.80 L55.97,241.80 L55.97,243.20 L56.43,243.20 L56.43,244.60 L56.90,244.60 L56.90,246.00 L59.00,246.00 L59.00,248.10 L60.37,248.10 L60.37,249.13 L61.73,249.13 L61.73,250.17 L63.10,250.17 L63.10,251.20 L64.47,251.20 L64.47,252.73 L65.83,252.73 L65.83,254.27 L67.20,254.27 L67.20,255.80 L68.75,255.80 L68.75,256.80 L70.30,256.80 L70.30,257.80 L71.95,257.80 L71.95,259.10 L73.60,259.10 L73.60,260.40 L82.80,260.40 L82.80,262.20" fill="none" stroke="#000" stroke-width="1.1" stroke-linejoin="miter"/>
<path d="M57.20,246.20 L61.60,246.20 L61.60,251.00" fill="none" stroke="#000" stroke-width="1.0" stroke-linejoin="miter"/>
<path d="M86.00,263.30 L117.50,263.30" fill="none" stroke="#555" stroke-width="1.5" stroke-linejoin="miter"/>
<path d="M146.00,196.10 L147.50,196.10 L147.50,197.50 L148.15,197.50 L148.15,199.85 L148.80,199.85 L148.80,202.20 L150.90,202.20 L150.90,205.30 L153.00,205.30 L153.00,207.40 L154.30,207.40 L154.30,209.80 L155.70,209.80 L155.70,212.20 L158.40,212.20 L158.40,215.10 L160.40,215.10 L160.40,216.10 L162.50,216.10 L162.50,218.20 L163.35,218.20 L163.35,220.10 L164.20,220.10 L164.20,222.00 L164.97,222.00 L164.97,224.07 L165.73,224.07 L165.73,226.13 L166.50,226.13 L166.50,228.20 L168.00,228.20 L168.00,230.10 L169.50,230.10 L169.50,232.00 L170.65,232.00 L170.65,234.70 L171.80,234.70 L171.80,237.40 L173.40,237.40 L173.40,244.30 L182.60,244.30 L182.60,254.30 L185.70,254.30 L185.70,265.30" fill="none" stroke="#000" stroke-width="1.2" stroke-linejoin="miter"/>
<path d="M146.00,196.10 L146.80,196.10 L146.80,208.20 L152.50,208.20 L154.20,208.20 L154.20,210.50 L155.50,210.50 L155.50,213.40 L157.00,213.40 L157.00,217.00 L157.60,217.00 L157.60,219.00 L158.20,219.00 L158.20,221.00 L160.00,221.00 L160.00,224.00 L160.90,224.00 L160.90,226.10 L161.80,226.10 L161.80,228.20 L162.20,228.20 L162.20,230.85 L162.60,230.85 L162.60,233.50 L164.15,233.50 L164.15,235.45 L165.70,235.45 L165.70,237.40 L166.85,237.40 L166.85,239.70 L168.00,239.70 L168.00,242.00 L170.30,242.00 L170.30,245.10 L171.50,245.10 L171.50,248.50 L236.50,248.50 L236.50,265.30" fill="none" stroke="#000" stroke-width="1.2" stroke-linejoin="miter"/>
<path d="M277.10,196.10 L278.80,196.10 L278.80,198.50 L280.80,198.50 L280.80,200.20 L282.60,200.20 L282.60,201.60 L285.00,201.80 L287.70,201.80 L287.70,203.30 L290.40,203.30 L290.40,204.30 L292.50,204.30 L292.50,205.20 L293.50,205.20 L293.50,207.60 L294.00,207.60 L294.00,209.00 L294.50,209.00 L294.50,210.40 L295.60,210.40 L295.60,213.00 L297.10,213.00 L297.10,214.00 L299.20,214.60 L299.70,217.10 L300.70,217.10 L300.70,219.70 L302.70,219.70 L302.70,221.70 L304.00,221.70 L304.00,222.80 L305.50,222.80 L305.50,223.40 L307.00,223.40 L307.00,224.00 L309.40,224.00 L309.40,225.80 L311.20,225.80 L311.20,228.20 L313.00,228.20 L313.00,230.00 L314.80,230.00 L314.80,232.40 L316.00,232.40 L316.00,234.60 L343.10,234.60 L343.10,245.10 L349.50,245.10 L349.50,255.50 L366.10,255.50 L366.10,265.30" fill="none" stroke="#000" stroke-width="1.3" stroke-linejoin="miter"/>
<path d="M277.10,196.10 L277.10,202.60 L283.40,202.60 L283.85,202.60 L283.85,204.15 L284.30,204.15 L284.30,205.70 L286.00,205.70 L286.00,207.70 L287.10,207.70 L287.10,210.30 L288.20,210.30 L288.20,212.50 L289.40,212.50 L289.40,214.00 L290.90,214.00 L290.90,216.60 L292.00,216.60 L292.00,218.70 L297.10,218.70 L298.60,219.20 L300.20,219.20 L300.20,220.70 L301.00,220.70 L301.00,221.50 L301.90,221.50 L301.90,223.35 L302.80,223.35 L302.80,225.20 L303.40,230.00 L311.80,230.00 L311.80,233.60 L312.40,234.80 L314.20,234.80 L314.20,235.40 L316.00,235.40 L316.00,236.00 L317.20,236.00 L317.20,238.20 L322.90,238.20 L322.90,242.30 L328.70,242.30 L328.70,250.20 L332.30,250.20 L332.30,257.80 L370.60,257.80" fill="none" stroke="#000" stroke-width="1.3" stroke-linejoin="miter"/>
<path d="M409.30,197.90 L410.93,197.90 L410.93,198.13 L412.57,198.13 L412.57,198.37 L414.20,198.37 L414.20,198.60 L419.00,199.20 L420.80,199.20 L420.80,199.80 L422.60,199.80 L422.60,200.40 L425.00,200.40 L425.00,202.20 L425.90,202.20 L425.90,203.70 L426.80,203.70 L426.80,205.20 L427.70,205.20 L427.70,206.40 L428.60,206.40 L428.60,207.60 L431.00,207.60 L431.00,209.40 L432.80,209.40 L432.80,210.30 L434.60,210.30 L434.60,211.20 L437.00,211.20 L437.00,212.60 L437.60,212.60 L437.60,213.80 L438.20,213.80 L438.20,215.00 L439.10,215.00 L439.10,216.80 L440.00,216.80 L440.00,218.60 L441.20,218.60 L441.20,219.80 L442.40,219.80 L442.40,221.00 L443.90,221.00 L443.90,221.90 L445.40,221.90 L445.40,222.80 L447.60,222.80 L447.60,225.20 L448.80,225.20 L448.80,226.40 L450.00,226.40 L450.00,227.60 L452.40,227.60 L452.40,229.40 L453.00,229.40 L453.00,230.90 L453.60,230.90 L453.60,232.40 L454.20,232.40 L454.20,233.90 L454.80,233.90 L454.80,235.40 L455.70,235.40 L455.70,236.60 L456.60,236.60 L456.60,237.80 L462.00,237.80 L462.00,240.20 L462.75,240.20 L462.75,241.90 L463.50,241.90 L463.50,243.60 L482.40,243.60 L482.40,250.80 L491.00,250.80 L491.00,258.10 L503.30,258.10 L503.30,265.30" fill="none" stroke="#000" stroke-width="1.5" stroke-linejoin="miter"/>
<path d="M409.30,197.90 L414.20,198.40 L419.00,199.00 L421.40,199.00 L421.40,200.20 L421.40,203.00 L422.40,203.00 L422.40,205.50 L424.50,205.80 L426.80,205.60 L428.60,205.60 L428.60,207.60 L431.00,207.60 L431.00,209.40 L432.50,209.40 L432.50,210.20 L434.00,210.20 L434.00,211.00 L434.30,211.00 L434.30,212.70 L434.60,212.70 L434.60,214.40 L435.50,214.40 L435.50,217.00 L436.40,217.00 L436.40,218.40 L438.50,218.40 L440.00,218.40 L440.00,219.50 L442.00,219.50 L442.00,220.80 L445.50,221.20 L458.70,221.20 L458.70,229.60 L472.80,229.60" fill="none" stroke="#000" stroke-width="1.1" stroke-linejoin="miter"/>
<circle cx="103.40" cy="126.20" r="1.15" fill="#000"/>
<circle cx="122.40" cy="126.90" r="1.15" fill="#000"/>
<circle cx="43.90" cy="76.70" r="1.05" fill="#000"/>
<circle cx="30.50" cy="70.80" r="1.05" fill="#000"/>
<circle cx="78.70" cy="128.00" r="1.05" fill="#000"/>
<circle cx="152.20" cy="63.80" r="0.9500000000000001" fill="#000"/>
<circle cx="154.20" cy="66.80" r="0.9500000000000001" fill="#000"/>
<circle cx="195.80" cy="110.90" r="1.15" fill="#000"/>
<circle cx="241.70" cy="128.00" r="1.15" fill="#000"/>
<circle cx="241.70" cy="126.60" r="1.15" fill="#000"/>
<circle cx="296.30" cy="61.50" r="1.0999999999999999" fill="#000"/>
<circle cx="330.00" cy="81.50" r="1.0999999999999999" fill="#000"/>
<circle cx="334.00" cy="81.50" r="1.0999999999999999" fill="#000"/>
<circle cx="345.10" cy="89.20" r="1.0999999999999999" fill="#000"/>
<circle cx="349.40" cy="89.20" r="1.0999999999999999" fill="#000"/>
<circle cx="354.20" cy="89.20" r="1.0999999999999999" fill="#000"/>
<circle cx="360.20" cy="89.20" r="1.0999999999999999" fill="#000"/>
<circle cx="327.10" cy="96.80" r="1.0999999999999999" fill="#000"/>
<circle cx="334.80" cy="96.80" r="1.0999999999999999" fill="#000"/>
<circle cx="341.70" cy="96.80" r="1.0999999999999999" fill="#000"/>
<circle cx="371.40" cy="128.00" r="1.0999999999999999" fill="#000"/>
<circle cx="470.10" cy="106.10" r="1.15" fill="#000"/>
<circle cx="484.80" cy="106.10" r="1.15" fill="#000"/>
<circle cx="494.00" cy="120.30" r="1.15" fill="#000"/>
<circle cx="507.40" cy="128.00" r="1.15" fill="#000"/>
<circle cx="488.90" cy="120.30" r="1.15" fill="#000"/>
<circle cx="82.80" cy="261.50" r="1.15" fill="#000"/>
<circle cx="117.50" cy="263.30" r="1.15" fill="#000"/>
<circle cx="192.60" cy="248.50" r="1.15" fill="#000"/>
<circle cx="236.50" cy="265.00" r="1.15" fill="#000"/>
<circle cx="146.60" cy="196.80" r="1.15" fill="#000"/>
<circle cx="322.60" cy="234.60" r="1.05" fill="#000"/>
<circle cx="326.80" cy="234.60" r="1.05" fill="#000"/>
<circle cx="331.00" cy="234.60" r="1.05" fill="#000"/>
<circle cx="337.60" cy="234.60" r="1.05" fill="#000"/>
<circle cx="366.10" cy="265.00" r="1.05" fill="#000"/>
<circle cx="370.60" cy="257.80" r="1.15" fill="#000"/>
<circle cx="466.80" cy="243.60" r="1.15" fill="#000"/>
<circle cx="481.20" cy="243.60" r="1.15" fill="#000"/>
<circle cx="491.00" cy="258.10" r="1.15" fill="#000"/>
<circle cx="503.30" cy="265.00" r="1.15" fill="#000"/>
<circle cx="461.50" cy="229.60" r="1.0" fill="#000"/>
<circle cx="465.00" cy="229.60" r="1.0" fill="#000"/>
<circle cx="468.50" cy="229.60" r="1.0" fill="#000"/>
<circle cx="472.50" cy="229.60" r="1.0" fill="#000"/>
<circle cx="452.00" cy="221.20" r="1.0" fill="#000"/>
</svg>
</body></html>
